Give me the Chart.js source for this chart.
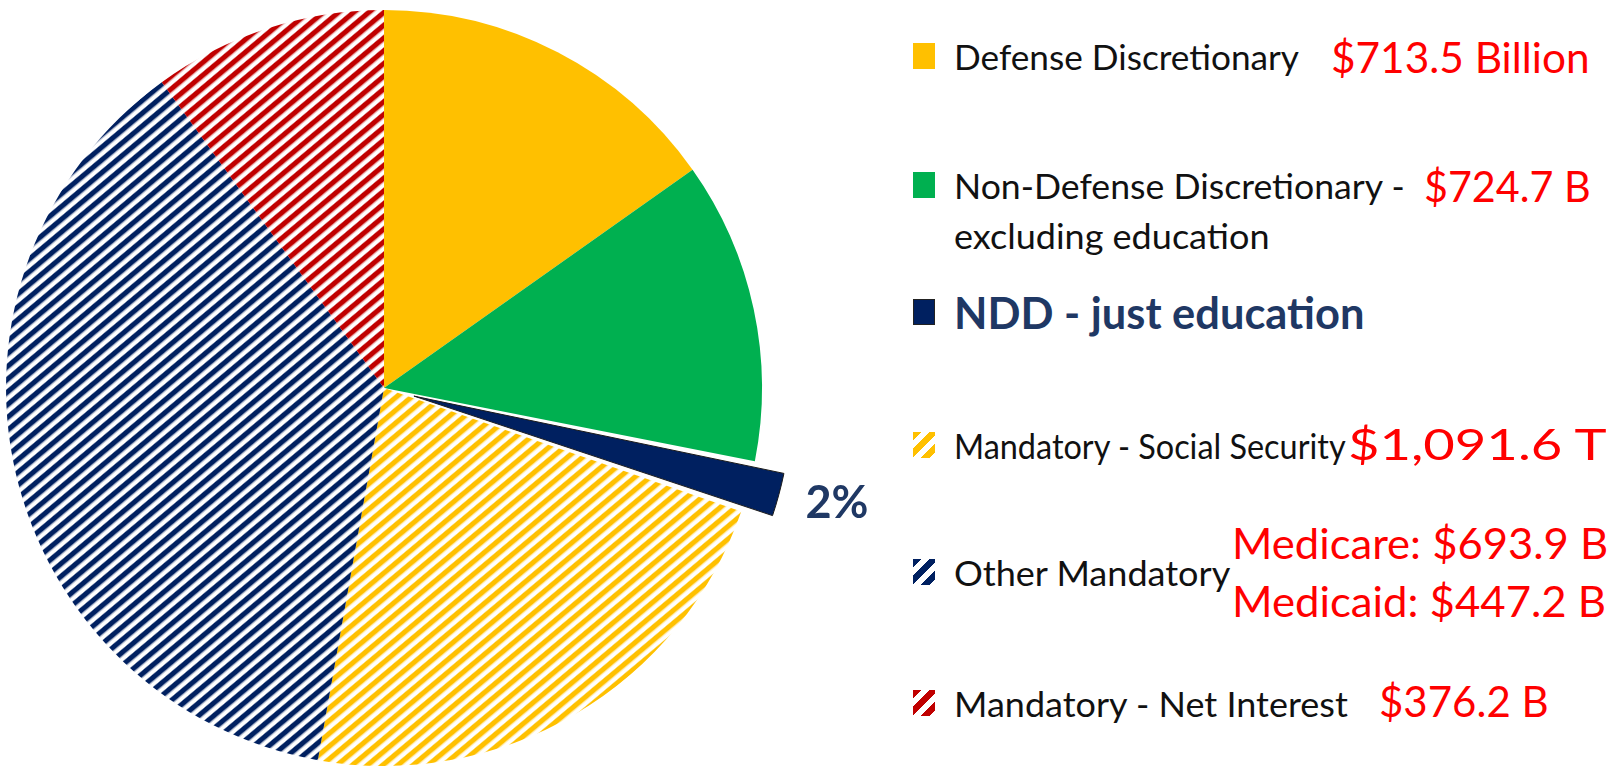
<!DOCTYPE html>
<html>
<head>
<meta charset="utf-8">
<script src="https://cdn.jsdelivr.net/npm/chart.js@4.4.0/dist/chart.umd.min.js"></script>
<style>
    body { margin: 0; background: #fff; width: 1614px; height: 771px; overflow: hidden; position: relative;
           font-family: Lato, "Open Sans", sans-serif; }
    #pieBox { position: absolute; left: 0; top: 0; width: 900px; height: 771px; }
    .line { position: absolute; white-space: nowrap; line-height: 1; transform-origin: 0 50%; }
    .cat { font-size: 35px; color: #111; }
    .cat.big { font-size: 43px; font-weight: bold; color: #1F3864; }
    .amt { font-size: 43px; color: #FF0000; }
    .icon { position: absolute; width: 22px; height: 26px; box-sizing: border-box; }
</style>
</head>
<body>
<div id="pieBox"><canvas id="pie"></canvas></div>
<div id="legend"></div>

<script>
// chart data
const categories = [
    'Defense Discretionary',
    ['Non-Defense Discretionary -', 'excluding education'],
    'NDD - just education',
    'Mandatory - Social Security',
    'Other Mandatory',
    'Mandatory - Net Interest'
];
const shares = [15.2, 12.9, 2.2, 22.5, 37.2, 10.0];   // percent of the pie
const amounts = [
    ['$713.5 Billion'],
    ['$724.7 B'],
    [],
    ['$1,091.6 T'],
    ['Medicare: $693.9 B', 'Medicaid: $447.2 B'],
    ['$376.2 B']
];
const pulledLabel = '2%';
const sliceColors = ['#FFC000', '#00B050', '#002060', '#FFC000', '#002060', '#C00000'];
const hatched = [false, false, false, true, true, true];
const pulled = [false, false, true, false, false, false];

// stripes for the mandatory slices
function makeHatch(color) {
    const tile = document.createElement('canvas');
    tile.width = 8;
    tile.height = 8;
    const c = tile.getContext('2d');
    c.fillStyle = '#fff';
    c.fillRect(0, 0, 8, 8);
    c.fillStyle = color;
    c.fillRect(0, 0, 8, 4.3);
    const pat = c.createPattern(tile, 'repeat');
    pat.setTransform(new DOMMatrix().rotateSelf(-40).scaleSelf(1.22, 1.22));
    return pat;
}

const fills = sliceColors.map((col, i) => hatched[i] ? makeHatch(col) : col);

// chart.js grows an offset arc as well as moving it; keep the radius, only move it
const keepRadius = {
    id: 'keepRadius',
    beforeDatasetDraw(chart) {
        const meta = chart.getDatasetMeta(0);
        const R = meta.controller.outerRadius;
        meta.data.forEach(arc => {
            const off = (arc.options.offset || 0) / 4;
            const fix = 1 - Math.sin(Math.min(Math.PI, arc.circumference));
            arc.outerRadius = R - off * fix;
        });
    },
    afterDatasetsDraw(chart) {
        const meta = chart.getDatasetMeta(0);
        const ctx = chart.ctx;
        meta.data.forEach((arc, i) => {
            if (!pulled[i]) return;
            const mid = (arc.startAngle + arc.endAngle) / 2;
            const r = meta.controller.outerRadius + 88;
            ctx.save();
            ctx.font = 'bold 45px Lato, "Open Sans", sans-serif';
            ctx.fillStyle = '#1F3864';
            ctx.textAlign = 'center';
            ctx.textBaseline = 'middle';
            ctx.fillText(pulledLabel, arc.x + Math.cos(mid) * r + 3, arc.y + Math.sin(mid) * r - 6);
            ctx.restore();
        });
    }
};

new Chart(document.getElementById('pie'), {
    type: 'pie',
    data: {
        labels: categories,
        datasets: [{
            data: shares,
            backgroundColor: fills,
            borderWidth: pulled.map(p => p ? 1 : 0),
            borderColor: '#1a1a1a',
            offset: pulled.map(p => p ? 124 : 0)
        }]
    },
    options: {
        responsive: true,
        maintainAspectRatio: false,
        animation: false,
        events: [],
        radius: 378,
        layout: { padding: { top: 5, right: 132 } },
        plugins: { legend: { display: false }, tooltip: { enabled: false } }
    },
    plugins: [keepRadius]
});

// legend on the right, built from the same arrays
const rowY = [56, 185, 312, 445, 572, 703];
const catW = [[345], [451, 315], [410], [392], [276], [394]];
const amtX = [1331, 1424, 0, 1348, 1232, 1379];
const amtY = [[56], [185], [], [443], [542, 600], [700]];
const amtW = [[259], [167], [], [259], [376, 374], [170]];
const legend = document.getElementById('legend');

function addLine(cls, text, x, yc, size, w) {
    const d = document.createElement('div');
    d.className = 'line ' + cls;
    d.textContent = text;
    d.style.left = x + 'px';
    d.style.top = (yc - size / 2) + 'px';
    legend.appendChild(d);
    d.scaleTo = w;
    return d;
}

const lines = [];
categories.forEach((cat, i) => {
    const icon = document.createElement('div');
    icon.className = 'icon';
    icon.style.left = '913px';
    icon.style.top = (rowY[i] - 13) + 'px';
    if (hatched[i]) {
        icon.style.background = 'repeating-linear-gradient(135deg, ' + sliceColors[i] + ' 0 6px, #fff 6px 12px)';
    } else {
        icon.style.background = sliceColors[i];
        if (pulled[i]) icon.style.border = '1px solid #222';
    }
    legend.appendChild(icon);

    const parts = Array.isArray(cat) ? cat : [cat];
    const big = pulled[i];
    parts.forEach((t, k) => lines.push(addLine(big ? 'cat big' : 'cat', t, 954, rowY[i] + k * 50, big ? 43 : 35, catW[i][k])));
    amounts[i].forEach((t, k) => lines.push(addLine('amt', t, amtX[i], amtY[i][k], 43, amtW[i][k])));
});

// squeeze or stretch each line to the width it has in the source picture
function fitLines() {
    lines.forEach(d => {
        d.style.transform = 'scaleX(' + (d.scaleTo / d.offsetWidth) + ')';
    });
}
if (document.fonts && document.fonts.ready) {
    document.fonts.ready.then(fitLines);
} else {
    fitLines();
}
</script>
</body>
</html>
